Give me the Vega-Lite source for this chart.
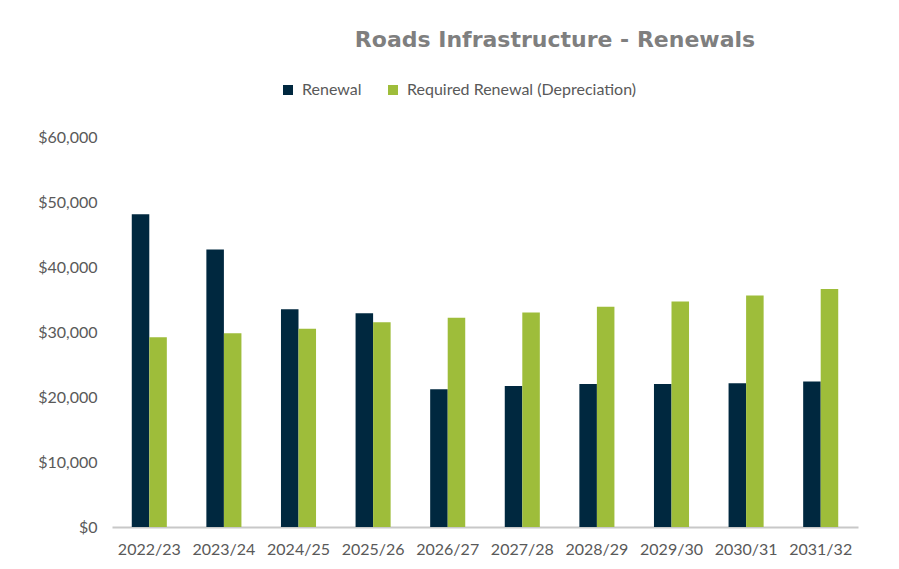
{
  "$schema": "https://vega.github.io/schema/vega-lite/v6.json",
  "width": 746,
  "height": 390,
  "autosize": {"type": "none"},
  "padding": {"left": 112, "top": 137, "right": 41, "bottom": 42},
  "background": "white",
  "title": {
    "text": "Roads Infrastructure - Renewals",
    "anchor": "middle",
    "dx": 70,
    "offset": 30,
    "font": "DejaVu Sans",
    "fontSize": 22,
    "fontWeight": "bold",
    "color": "#7f7f7f"
  },
  "data": {
    "values": [
      {"year": "2022/23", "series": "Renewal", "value": 48100},
      {"year": "2022/23", "series": "Required Renewal (Depreciation)", "value": 29200},
      {"year": "2023/24", "series": "Renewal", "value": 42700},
      {"year": "2023/24", "series": "Required Renewal (Depreciation)", "value": 29800},
      {"year": "2024/25", "series": "Renewal", "value": 33500},
      {"year": "2024/25", "series": "Required Renewal (Depreciation)", "value": 30500},
      {"year": "2025/26", "series": "Renewal", "value": 32900},
      {"year": "2025/26", "series": "Required Renewal (Depreciation)", "value": 31500},
      {"year": "2026/27", "series": "Renewal", "value": 21200},
      {"year": "2026/27", "series": "Required Renewal (Depreciation)", "value": 32200},
      {"year": "2027/28", "series": "Renewal", "value": 21700},
      {"year": "2027/28", "series": "Required Renewal (Depreciation)", "value": 33000},
      {"year": "2028/29", "series": "Renewal", "value": 22000},
      {"year": "2028/29", "series": "Required Renewal (Depreciation)", "value": 33900},
      {"year": "2029/30", "series": "Renewal", "value": 22000},
      {"year": "2029/30", "series": "Required Renewal (Depreciation)", "value": 34700},
      {"year": "2030/31", "series": "Renewal", "value": 22100},
      {"year": "2030/31", "series": "Required Renewal (Depreciation)", "value": 35600},
      {"year": "2031/32", "series": "Renewal", "value": 22400},
      {"year": "2031/32", "series": "Required Renewal (Depreciation)", "value": 36600}
    ]
  },
  "mark": {"type": "bar"},
  "encoding": {
    "x": {
      "field": "year",
      "type": "nominal",
      "sort": null,
      "title": null,
      "scale": {"paddingInner": 0.53, "paddingOuter": 0.265},
      "axis": {
        "labelAngle": 0,
        "labelFont": "Lato",
        "labelFontSize": 16,
        "labelColor": "#595959",
        "labelPadding": 14,
        "ticks": false,
        "domainColor": "#c8c8c8",
        "domainWidth": 2
      }
    },
    "xOffset": {"field": "series", "type": "nominal", "sort": null, "scale": {"paddingInner": 0, "paddingOuter": 0}},
    "y": {
      "field": "value",
      "type": "quantitative",
      "title": null,
      "scale": {"domain": [0, 60000], "nice": false},
      "axis": {
        "values": [0, 10000, 20000, 30000, 40000, 50000, 60000],
        "format": "$,.0f",
        "labelFont": "Lato",
        "labelFontSize": 16,
        "labelColor": "#595959",
        "labelPadding": 15,
        "ticks": false,
        "domain": false,
        "grid": false
      }
    },
    "color": {
      "field": "series",
      "type": "nominal",
      "sort": null,
      "scale": {"domain": ["Renewal", "Required Renewal (Depreciation)"], "range": ["#00283f", "#9ebd3a"]},
      "legend": {
        "title": null,
        "orient": "none",
        "direction": "horizontal",
        "legendX": 168,
        "legendY": -55,
        "symbolType": "square",
        "symbolSize": 100,
        "symbolStrokeWidth": 0,
        "labelFont": "Lato",
        "labelFontSize": 16,
        "labelColor": "#595959",
        "labelOffset": 6,
        "labelLimit": 400,
        "columnPadding": 23
      }
    }
  },
  "config": {"view": {"stroke": null}}
}
